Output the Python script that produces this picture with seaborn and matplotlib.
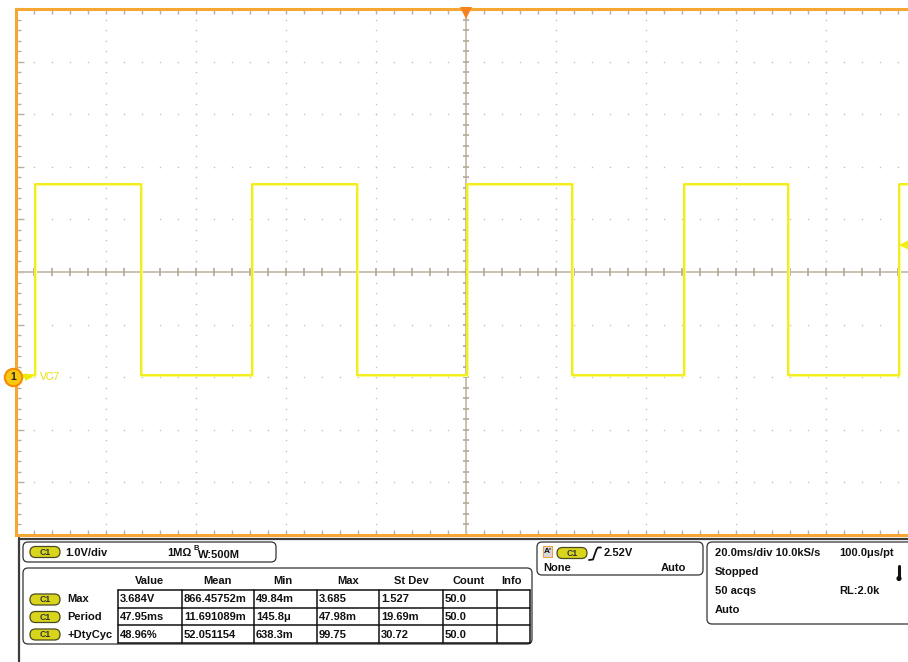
import numpy as np
import pandas as pd
import matplotlib
matplotlib.use("Agg")
import matplotlib.pyplot as plt
from matplotlib.patches import FancyBboxPatch, Circle, Rectangle
import seaborn as sns

# ---- acquisition (channel 1, square wave) ----
edge_times_ms = [-95.8, -72.3, -47.6, -24.3, 0.2, 23.6, 48.4, 71.6, 96.2]
low_level_v = 0.05
high_level_v = 3.67
trigger_level_v = 2.52

# ---- screen scaling ----
time_per_div_ms = 20.0
volts_per_div = 1.0
ground_offset_div = -2.0          # channel 1 ground sits two divisions below centre
n_hdiv, n_vdiv = 10, 10
n_sub = 5

# ---- readouts ----
channel_text = ["1.0V/div", "1MΩ"]
bw_text = ["B", "W:500M"]
meas_columns = ["Value", "Mean", "Min", "Max", "St Dev", "Count", "Info"]
meas_names = ["Max", "Period", "+DtyCyc"]
meas_value = ["3.684V", "47.95ms", "48.96%"]
meas_mean = ["866.45752m", "11.691089m", "52.051154"]
meas_min = ["49.84m", "145.8μ", "638.3m"]
meas_max = ["3.685", "47.98m", "99.75"]
meas_std = ["1.527", "19.69m", "30.72"]
meas_count = ["50.0", "50.0", "50.0"]
meas_info = ["", "", ""]
trigger_text = ["None", "Auto", "2.52V"]
timebase_text = ["20.0ms/div 10.0kS/s", "100.0μs/pt", "Stopped", "50 acqs", "RL:2.0k", "Auto"]

sns.set_theme(style="white")
plt.rcParams["font.family"] = ["Liberation Sans", "DejaVu Sans"]

W, H = 908, 662
fig = plt.figure(figsize=(W / 100, H / 100), dpi=100)
fig.patch.set_facecolor("white")

# ---------------- graticule ----------------
ax = fig.add_axes([16 / W, (H - 535) / H, 900 / W, 526 / H])
ax.set_facecolor("white")
x0 = -n_hdiv / 2 * time_per_div_ms
x1 = n_hdiv / 2 * time_per_div_ms
ymid = -ground_offset_div * volts_per_div
y0 = ymid - n_vdiv / 2 * volts_per_div
y1 = ymid + n_vdiv / 2 * volts_per_div
ax.set_xlim(x0, x1)
ax.set_ylim(y0, y1)

grid_c = "#b7ae9b"
dot_c = "#c6bfae"
xmaj = np.linspace(x0, x1, n_hdiv + 1)
ymaj = np.linspace(y0, y1, n_vdiv + 1)
xmin_ = np.linspace(x0, x1, n_hdiv * n_sub + 1)
ymin_ = np.linspace(y0, y1, n_vdiv * n_sub + 1)

# dotted major grid lines
for yv in ymaj[1:-1]:
    if np.isclose(yv, ymid):
        continue
    ax.plot(xmin_[1:-1], np.full(len(xmin_) - 2, yv), ls="", marker="s",
            ms=0.95, mew=0, color=dot_c, zorder=1)
for xv in xmaj[1:-1]:
    if np.isclose(xv, 0):
        continue
    ax.plot(np.full(len(ymin_) - 2, xv), ymin_[1:-1], ls="", marker="s",
            ms=0.95, mew=0, color=dot_c, zorder=1)

# centre cross with sub-division ticks
ax.axhline(ymid, color="#c9c1b0", lw=1.4, zorder=1)
ax.axvline(0, color="#c9c1b0", lw=1.4, zorder=1)
ax.plot(xmin_[1:-1], np.full(len(xmin_) - 2, ymid), ls="", marker="|",
        ms=5.5, mew=1.3, color=grid_c, zorder=1)
ax.plot(np.full(len(ymin_) - 2, 0), ymin_[1:-1], ls="", marker="_",
        ms=5.0, mew=1.3, color=grid_c, zorder=1)

# border ticks
ax.set_xticks(xmaj)
ax.set_xticks(xmin_, minor=True)
ax.set_yticks(ymaj)
ax.set_yticks(ymin_, minor=True)
ax.tick_params(which="both", direction="in", top=True, bottom=True, left=True,
               right=False, labelbottom=False, labelleft=False,
               color=grid_c, width=1.0)
ax.tick_params(which="minor", length=3.8)
ax.tick_params(which="major", length=5.5)
ax.tick_params(axis="x", which="major", length=3.8)

for side in ["left", "top", "bottom", "right"]:
    ax.spines[side].set_color("#f6a733")
    ax.spines[side].set_linewidth(2.2)
    ax.spines[side].set_zorder(5)

# ---------------- waveform ----------------
t_pts = [x0]
v_pts = [low_level_v]
level = low_level_v
for et in edge_times_ms:
    t_pts.append(et)
    v_pts.append(level)
    level = high_level_v if level == low_level_v else low_level_v
    t_pts.append(et)
    v_pts.append(level)
t_pts.append(x1)
v_pts.append(level)
wave = pd.DataFrame({"time_ms": t_pts, "volts": v_pts})

sns.lineplot(data=wave, x="time_ms", y="volts", sort=False, estimator=None,
             color="#fbfb8a", lw=2.2, ax=ax, zorder=3)
sns.lineplot(data=wave, x="time_ms", y="volts", sort=False, estimator=None,
             color="#eeea00", lw=1.1, ax=ax, zorder=4)
ax.set_xlabel("")
ax.set_ylabel("")

# trigger position and level markers
px_y = volts_per_div * n_vdiv / 526
px_x = time_per_div_ms * n_hdiv / 900
ax.plot(0, y1 - 4 * px_y, marker="v", ms=8, color="#f7821c", mew=0,
        clip_on=False, zorder=6)
ax.plot(x1 - 11 * px_x, trigger_level_v, marker="<", ms=8, color="#f2ee10",
        mew=0, clip_on=False, zorder=6)

# channel ground marker
ax.plot(x0 - 3 * px_x, 0.0, marker="o", ms=12.5, mfc="#f9c80e", mec="#f48c06",
        mew=1.5, clip_on=False, zorder=7)
ax.text(x0 - 3 * px_x, 0.0, "1", ha="center", va="center", fontsize=7.5,
        fontweight="bold", color="#222", zorder=8, clip_on=False)
ax.plot([x0 + 5 * px_x, x0 + 12 * px_x], [0, 0], color="#eeea00", lw=1.2, zorder=6)
ax.plot(x0 + 13 * px_x, 0.0, marker=">", ms=6, color="#eeea00", mew=0, zorder=6)
ax.text(x0 + 24 * px_x, 0.0, "VC7", ha="left", va="center", fontsize=7.5,
        color="#e6e200", zorder=6)

# ---------------- readout panel (pixel coordinates) ----------------
pn = fig.add_axes([0, 0, 1, 1], zorder=-1)
pn.set_xlim(0, W)
pn.set_ylim(H, 0)
pn.axis("off")
pn.patch.set_alpha(0)

dark = "#333333"
pn.plot([19, W], [538.5, 538.5], color="#3c3c3c", lw=1.6)
pn.plot([19, 19], [538, H], color="#3c3c3c", lw=1.6)


def rbox(x, y, w, h, r=5):
    pn.add_patch(FancyBboxPatch((x, y), w, h,
                                boxstyle=f"round,pad=0,rounding_size={r}",
                                fc="white", ec=dark, lw=0.9))


def badge(x, yc):
    pn.add_patch(FancyBboxPatch((x, yc - 5.5), 30, 11,
                                boxstyle="round,pad=0,rounding_size=5.5",
                                fc="#d8d51c", ec="#4a4a20", lw=0.9))
    pn.text(x + 15, yc + 0.3, "C1", ha="center", va="center", fontsize=6.3,
            fontweight="bold", color="#333")


def txt(x, y, s, ha="left", fs=8):
    pn.text(x, y, s, ha=ha, va="center", fontsize=fs, fontweight="bold",
            color="#111")


# vertical settings box
rbox(23, 542, 253, 20)
badge(30, 552)
txt(65, 552.5, channel_text[0])
txt(167, 552.5, channel_text[1])
txt(193, 548.5, bw_text[0], fs=5.5)
txt(198, 554.5, bw_text[1])

# measurement table
rbox(23, 568, 509, 76)
col_lines = [118, 182, 254, 317, 379, 443, 497, 530]
row_lines = [590, 608, 625, 643]
header_x = [149, 217, 283, 348, 411, 469, 512]
for cx, name in zip(header_x, meas_columns):
    txt(cx, 581, name, ha="center")
for xl in col_lines:
    pn.plot([xl, xl], [row_lines[0], row_lines[-1]], color="#111", lw=1.1)
for yl in row_lines:
    pn.plot([col_lines[0], col_lines[-1]], [yl, yl], color="#111", lw=1.1)
table_cols = [meas_value, meas_mean, meas_min, meas_max, meas_std, meas_count, meas_info]
for i, name in enumerate(meas_names):
    yc = (row_lines[i] + row_lines[i + 1]) / 2 + 0.5
    badge(30, yc)
    txt(67, yc, name)
    for j, col in enumerate(table_cols):
        txt(col_lines[j] + 2, yc, col[i])

# trigger box
rbox(537, 542, 166, 33)
pn.add_patch(Rectangle((543, 546), 9, 11, fc="#d9d9d9", ec="#f0a040", lw=0.8))
pn.text(547.5, 551.5, "A'", ha="center", va="center", fontsize=6,
        fontweight="bold", color="#111")
badge(557, 553)
pn.plot([589, 593, 594.5, 596.5, 598, 601], [560, 559.5, 555, 549.5, 547.5, 547.5],
        color="#111", lw=1.3)
txt(604, 553.5, trigger_text[2])
txt(543, 568, trigger_text[0])
txt(686, 568, trigger_text[1], ha="right")

# timebase / acquisition box
rbox(707, 542, 215, 82)
txt(715, 553.5, timebase_text[0])
txt(894, 553.5, timebase_text[1], ha="right")
txt(715, 572, timebase_text[2])
txt(715, 591, timebase_text[3])
txt(880, 591, timebase_text[4], ha="right")
txt(715, 610, timebase_text[5])
pn.plot([899, 899], [566, 577], color="#111", lw=2.2, solid_capstyle="round")
pn.add_patch(Circle((899, 578.5), 2.6, fc="#111", ec="none"))

fig.savefig("out.png", dpi=100, facecolor="white")
